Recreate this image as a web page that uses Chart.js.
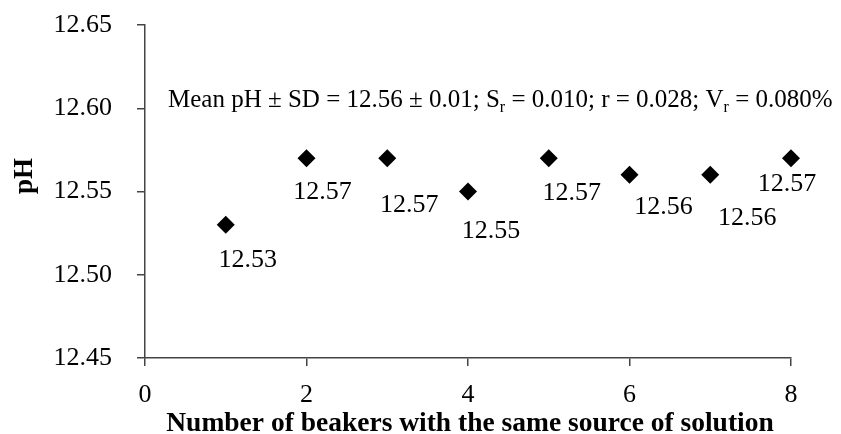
<!DOCTYPE html>
<html>
<head>
<meta charset="utf-8">
<script src="https://cdn.jsdelivr.net/npm/chart.js@4.4.1/dist/chart.umd.min.js"></script>
<style>
  body { margin: 0; background: #fff; }
  #wrap { width: 841px; height: 434px; }
</style>
</head>
<body>
<div id="wrap"><canvas id="grafico"></canvas></div>
<script>
// datos del grafico
const beakers = [1, 2, 3, 4, 5, 6, 7, 8];
const phValues = [12.53, 12.57, 12.57, 12.55, 12.57, 12.56, 12.56, 12.57];
const xTicks = [0, 2, 4, 6, 8];
const yTicks = [12.45, 12.50, 12.55, 12.60, 12.65];
const xTitle = 'Number of beakers with the same source of solution';
const yTitle = 'pH';
// texto de la anotacion: [texto, subindice?]
const notaPartes = [
    ['Mean pH \u00B1 SD = 12.56 \u00B1 0.01; S', false],
    ['r', true],
    [' = 0.010; r = 0.028; V', false],
    ['r', true],
    [' = 0.080%', false]
];

// desplazamiento de cada etiqueta respecto a su punto (px)
const labelOffsets = [[22, 33], [16, 32], [22, 45], [23, 37], [23, 33], [34, 30], [37, 41], [-4, 24]];

const FUENTE = '"Liberation Serif", "Times New Roman", serif';
const ejeColor = '#444';

const puntos = beakers.map((b, i) => ({ x: b, y: phValues[i] }));

// etiquetas de valores, titulos y la nota
const textosPlugin = {
    id: 'textos',
    afterDraw(chart) {
        const ctx = chart.ctx;
        const meta = chart.getDatasetMeta(0);
        ctx.save();
        ctx.fillStyle = '#000';

        // etiquetas de cada punto
        ctx.font = '26px ' + FUENTE;
        ctx.textAlign = 'center';
        ctx.textBaseline = 'alphabetic';
        meta.data.forEach((pt, i) => {
            const off = labelOffsets[i];
            ctx.fillText(phValues[i].toFixed(2), pt.x + off[0], pt.y + off[1] + 9);
        });

        // nota con subindices
        let x = 168;
        const yBase = 107;
        ctx.textAlign = 'left';
        notaPartes.forEach(([txt, sub]) => {
            ctx.font = (sub ? '16px ' : '25px ') + FUENTE;
            ctx.fillText(txt, x, sub ? yBase + 5 : yBase);
            x += ctx.measureText(txt).width;
        });

        // titulo eje x
        ctx.font = 'bold 27.5px ' + FUENTE;
        ctx.textAlign = 'center';
        ctx.fillText(xTitle, 470, 431);

        // titulo eje y
        ctx.translate(32, 176);
        ctx.rotate(-Math.PI / 2);
        ctx.font = 'bold 27px ' + FUENTE;
        ctx.fillText(yTitle, 0, 0);
        ctx.restore();
    }
};

const ctx = document.getElementById('grafico').getContext('2d');
new Chart(ctx, {
    type: 'scatter',
    data: {
        datasets: [{
            label: 'pH',
            data: puntos,
            clip: false,
            pointStyle: 'rectRot',
            pointRadius: 9,
            pointHoverRadius: 9,
            pointBorderWidth: 0,
            backgroundColor: '#000',
            borderColor: '#000'
        }]
    },
    options: {
        responsive: true,
        maintainAspectRatio: false,
        animation: false,
        events: [],
        layout: { padding: { left: 0, top: 25, right: 50, bottom: 0 } },
        plugins: {
            legend: { display: false },
            tooltip: { enabled: false }
        },
        scales: {
            x: {
                type: 'linear',
                min: 0,
                max: 8,
                afterFit: (scale) => {
                    scale.height = 76;
                    scale.paddingLeft = 0;
                    scale.paddingRight = 0;
                },
                afterBuildTicks: (scale) => { scale.ticks = xTicks.map(v => ({ value: v })); },
                border: { display: true, color: ejeColor, width: 1.5 },
                grid: { display: true, drawOnChartArea: false, drawTicks: true, tickLength: 8, color: ejeColor, lineWidth: 1.5 },
                ticks: {
                    color: '#000',
                    padding: 14,
                    font: { family: FUENTE, size: 26 },
                    callback: (v) => v
                }
            },
            y: {
                type: 'linear',
                min: 12.45,
                max: 12.65,
                afterFit: (scale) => {
                    scale.width = 145;
                    scale.paddingTop = 0;
                    scale.paddingBottom = 0;
                },
                afterBuildTicks: (scale) => { scale.ticks = yTicks.map(v => ({ value: v })); },
                border: { display: true, color: ejeColor, width: 1.5 },
                grid: { display: true, drawOnChartArea: false, drawTicks: true, tickLength: 8, color: ejeColor, lineWidth: 1.5 },
                ticks: {
                    color: '#000',
                    padding: 25,
                    font: { family: FUENTE, size: 26 },
                    callback: (v) => Number(v).toFixed(2)
                }
            }
        }
    },
    plugins: [textosPlugin]
});
</script>
</body>
</html>
